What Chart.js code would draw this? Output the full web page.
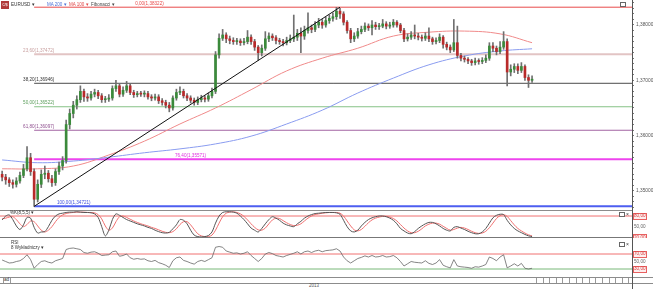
<!DOCTYPE html>
<html><head><meta charset="utf-8">
<script src="https://cdn.jsdelivr.net/npm/chart.js@4.4.0/dist/chart.umd.min.js"></script>
<style>
html,body{margin:0;padding:0;background:#fff;width:653px;height:289px;overflow:hidden;font-family:"Liberation Sans",Arial,sans-serif;}
canvas{position:absolute;left:0;}
.hl{position:absolute;left:0;width:632px;height:1px;background:#8c8c8c;}
.t{position:absolute;white-space:nowrap;font-size:4.5px;line-height:6px;}
.ico{position:absolute;width:4px;height:3px;border:1px solid #666;background:#fff;}
</style></head><body>
<canvas id="main" width="653" height="210" style="top:0"></canvas>
<canvas id="stoch" width="653" height="28" style="top:210px"></canvas>
<canvas id="rsi" width="653" height="39" style="top:238px"></canvas>

<div class="hl" style="top:210px"></div>
<div class="hl" style="top:237px;background:#777"></div>
<div class="hl" style="top:277px;width:653px"></div>
<div class="hl" style="top:283px;width:653px"></div>
<div style="position:absolute;left:632px;top:277px;width:1px;height:12px;background:#555"></div>
<div style="position:absolute;left:0;top:278px;width:3px;height:5px;border-right:1px solid #999"></div>
<div class="t" style="left:4px;top:277px;font-size:4.5px;color:#333">ad</div>
<div style="position:absolute;left:10px;top:278px;width:1px;height:5px;background:#999"></div>
<div style="position:absolute;left:536px;top:278px;width:96px;height:5px;background:repeating-linear-gradient(90deg,#999 0,#999 1px,transparent 1px,transparent 6.6px)"></div>
<div class="t" style="left:309px;top:283px;font-size:4.5px;color:#555">2013</div>

<div style="position:absolute;left:1px;top:1px;width:8px;height:8px;background:#b03a3a;color:#fff;font-size:4px;line-height:8px;text-align:center">€/$</div>
<div class="t" style="left:11px;top:2px;color:#333;font-size:4.6px">EURUSD ▾</div>
<div class="t" style="left:47px;top:2px;color:#4a6fd6">MA 200 ▾</div>
<div class="t" style="left:69px;top:2px;color:#e04848">MA 100 ▾</div>
<div class="t" style="left:91px;top:2px;color:#444">Fibonacci ▾</div>
<div class="ico" style="left:620px;top:2px"></div>
<div class="t" style="left:10px;top:210px;color:#333;font-size:4.5px">%K(8,5,5) ▾</div>
<div class="ico" style="left:619px;top:212px"></div><div class="t" style="left:626px;top:211px;font-size:5px;color:#333">×</div>
<div class="t" style="left:11px;top:240px;color:#333;font-size:4.5px">RSI</div>
<div class="t" style="left:11px;top:245px;color:#333;font-size:4.5px">8 Wykładniczy ▾</div>
<div class="ico" style="left:619px;top:242px"></div><div class="t" style="left:626px;top:241px;font-size:5px;color:#333">×</div>

<script>
// ---------- DATA ----------
const opens = [1.3530,1.3525,1.3520,1.3515,1.3512,1.3518,1.3528,1.3540,1.3560,1.3535,
1.3485,1.3512,1.3530,1.3532,1.3522,1.3515,1.3535,1.3545,1.3555,1.3620,
1.3640,1.3655,1.3665,1.3680,1.3670,1.3668,1.3675,1.3678,1.3672,1.3665,
1.3666,1.3668,1.3685,1.3690,1.3675,1.3682,1.3690,1.3678,1.3674,1.3676,
1.3675,1.3676,1.3670,1.3668,1.3670,1.3663,1.3660,1.3655,1.3650,1.3668,
1.3678,1.3680,1.3672,1.3668,1.3664,1.3660,1.3665,1.3668,1.3666,1.3672,
1.3680,1.3746,1.3776,1.3782,1.3775,1.3772,1.3770,1.3771,1.3768,1.3770,
1.3778,1.3770,1.3760,1.3750,1.3758,1.3775,1.3780,1.3777,1.3772,1.3770,
1.3768,1.3772,1.3775,1.3778,1.3785,1.3780,1.3790,1.3795,1.3792,1.3800,
1.3805,1.3800,1.3808,1.3812,1.3815,1.3825,1.3820,1.3805,1.3790,1.3775,
1.3780,1.3788,1.3792,1.3798,1.3795,1.3800,1.3797,1.3798,1.3802,1.3798,
1.3800,1.3805,1.3800,1.3790,1.3775,1.3778,1.3782,1.3780,1.3778,1.3776,
1.3780,1.3775,1.3770,1.3772,1.3778,1.3765,1.3760,1.3755,1.3768,1.3745,
1.3740,1.3738,1.3735,1.3732,1.3735,1.3734,1.3736,1.3740,1.3762,1.3758,
1.3752,1.3760,1.3770,1.3715,1.3720,1.3725,1.3718,1.3725,1.3705,1.3700];
const highs = [1.3536,1.3530,1.3524,1.3520,1.3524,1.3534,1.3548,1.3580,1.3568,1.3540,
1.3520,1.3538,1.3545,1.3537,1.3528,1.3540,1.3552,1.3562,1.3628,1.3648,
1.3662,1.3672,1.3690,1.3684,1.3676,1.3680,1.3684,1.3682,1.3676,1.3671,
1.3674,1.3690,1.3700,1.3694,1.3688,1.3698,1.3693,1.3682,1.3680,1.3680,
1.3681,1.3680,1.3674,1.3675,1.3674,1.3667,1.3664,1.3660,1.3672,1.3684,
1.3688,1.3684,1.3676,1.3672,1.3668,1.3670,1.3673,1.3672,1.3677,1.3686,
1.3752,1.3784,1.3792,1.3786,1.3780,1.3777,1.3776,1.3775,1.3776,1.3790,
1.3782,1.3774,1.3763,1.3764,1.3788,1.3786,1.3784,1.3781,1.3776,1.3774,
1.3778,1.3782,1.3818,1.3792,1.3795,1.3798,1.3822,1.3800,1.3806,1.3812,
1.3810,1.3814,1.3818,1.3822,1.3832,1.3830,1.3824,1.3808,1.3794,1.3786,
1.3794,1.3798,1.3804,1.3802,1.3808,1.3805,1.3803,1.3810,1.3806,1.3805,
1.3810,1.3808,1.3803,1.3794,1.3784,1.3788,1.3800,1.3785,1.3782,1.3786,
1.3795,1.3778,1.3777,1.3784,1.3781,1.3769,1.3764,1.3810,1.3798,1.3749,
1.3744,1.3741,1.3738,1.3740,1.3739,1.3741,1.3746,1.3768,1.3768,1.3762,
1.3770,1.3788,1.3775,1.3728,1.3730,1.3730,1.3732,1.3728,1.3710,1.3708];
const lows = [1.3518,1.3512,1.3508,1.3505,1.3507,1.3514,1.3524,1.3536,1.3528,1.3472,
1.3480,1.3506,1.3522,1.3516,1.3508,1.3510,1.3530,1.3538,1.3550,1.3612,
1.3632,1.3648,1.3660,1.3662,1.3662,1.3664,1.3670,1.3667,1.3660,1.3660,
1.3662,1.3664,1.3680,1.3670,1.3671,1.3678,1.3674,1.3669,1.3670,1.3671,
1.3670,1.3666,1.3663,1.3664,1.3658,1.3655,1.3650,1.3643,1.3646,1.3664,
1.3674,1.3668,1.3663,1.3659,1.3655,1.3656,1.3661,1.3661,1.3662,1.3668,
1.3676,1.3740,1.3772,1.3768,1.3766,1.3765,1.3765,1.3763,1.3764,1.3766,
1.3765,1.3754,1.3736,1.3744,1.3754,1.3770,1.3772,1.3766,1.3765,1.3762,
1.3764,1.3768,1.3770,1.3772,1.3750,1.3774,1.3785,1.3786,1.3788,1.3795,
1.3794,1.3796,1.3803,1.3807,1.3810,1.3812,1.3800,1.3785,1.3768,1.3770,
1.3776,1.3784,1.3788,1.3790,1.3782,1.3792,1.3792,1.3795,1.3793,1.3794,
1.3796,1.3796,1.3786,1.3770,1.3771,1.3774,1.3775,1.3773,1.3771,1.3772,
1.3770,1.3765,1.3766,1.3768,1.3758,1.3755,1.3750,1.3752,1.3740,1.3735,
1.3733,1.3730,1.3727,1.3728,1.3729,1.3730,1.3732,1.3736,1.3752,1.3746,
1.3748,1.3756,1.3690,1.3708,1.3714,1.3712,1.3714,1.3700,1.3687,1.3696];
const closes = [1.3525,1.3520,1.3515,1.3512,1.3518,1.3528,1.3540,1.3560,1.3535,1.3485,
1.3512,1.3530,1.3532,1.3522,1.3515,1.3535,1.3545,1.3555,1.3620,1.3640,
1.3655,1.3665,1.3680,1.3670,1.3668,1.3675,1.3678,1.3672,1.3665,1.3666,
1.3668,1.3685,1.3690,1.3675,1.3682,1.3690,1.3678,1.3674,1.3676,1.3675,
1.3676,1.3670,1.3668,1.3670,1.3663,1.3660,1.3655,1.3650,1.3668,1.3678,
1.3680,1.3672,1.3668,1.3664,1.3660,1.3665,1.3668,1.3666,1.3672,1.3680,
1.3746,1.3776,1.3782,1.3775,1.3772,1.3770,1.3771,1.3768,1.3770,1.3778,
1.3770,1.3760,1.3750,1.3758,1.3775,1.3780,1.3777,1.3772,1.3770,1.3768,
1.3772,1.3775,1.3778,1.3785,1.3780,1.3790,1.3795,1.3792,1.3800,1.3805,
1.3800,1.3808,1.3812,1.3815,1.3825,1.3820,1.3805,1.3790,1.3775,1.3780,
1.3788,1.3792,1.3798,1.3795,1.3800,1.3797,1.3798,1.3802,1.3798,1.3800,
1.3805,1.3800,1.3790,1.3775,1.3778,1.3782,1.3780,1.3778,1.3776,1.3780,
1.3775,1.3770,1.3772,1.3778,1.3765,1.3760,1.3755,1.3768,1.3745,1.3740,
1.3738,1.3735,1.3732,1.3735,1.3734,1.3736,1.3740,1.3762,1.3758,1.3752,
1.3760,1.3770,1.3715,1.3720,1.3725,1.3718,1.3725,1.3705,1.3700,1.3702];

const maIdx  = [0,10,20,30,40,50,60,70,80,90,100,110,120,130,140,149];
const ma200  = [1.3556,1.3551,1.3554,1.3561,1.3569,1.3576,1.3585,1.3599,1.3621,1.3646,1.3677,1.3704,1.3728,1.3744,1.3753,1.3757];
const ma100  = [1.3540,1.3540,1.3545,1.3565,1.3590,1.3621,1.3650,1.3683,1.3717,1.3740,1.3758,1.3780,1.3787,1.3789,1.3784,1.3768];

const trendIdx = [9,95];
const trendVal = [1.34721,1.38322];

const fibPct = ['0,00','23,60','38,20','50,00','61,80','76,40','100,00'];
const fibVal = [1.38322,1.37472,1.36946,1.36522,1.36097,1.35571,1.34721];
const fibStartIdx = 9;

const stochK = [69,80,83,70,52,42,55,76,74,48,32,35,36,50,68,80,86,88,90,91,
91,92,91,90,90,89,86,76,50,24,40,70,86,82,76,70,66,62,58,55,
52,48,45,40,36,33,32,34,44,55,70,68,58,40,26,22,21,22,25,35,
60,80,90,92,92,91,88,80,70,58,46,40,35,45,58,70,78,74,68,60,
55,52,50,58,65,74,80,84,87,88,89,90,90,90,89,85,68,50,38,35,
40,52,62,70,75,78,80,80,78,74,68,58,45,38,32,30,36,45,52,58,
62,62,58,52,45,40,38,48,50,46,42,37,33,30,30,35,45,60,75,82,
85,84,68,55,45,38,33,28,24,22];
const stochD = [72,74,77,78,70,58,50,56,66,64,52,40,35,40,50,64,76,83,87,89,
90,91,91,91,90,90,89,84,72,52,40,46,64,78,80,76,71,66,62,58,
55,52,48,45,41,37,34,33,36,44,56,64,64,55,42,30,24,22,22,26,
40,60,78,88,91,92,90,86,79,69,58,48,41,40,46,58,69,74,73,67,
61,56,53,54,58,66,74,80,84,86,88,89,90,90,90,88,80,66,52,41,
38,42,51,61,69,74,77,79,79,77,73,66,56,46,38,33,33,37,44,52,
57,60,60,57,51,45,40,42,46,48,46,42,37,33,31,32,37,47,60,73,
81,84,79,67,55,45,38,32,27,24];
const stochLevels = [80,50,20];

const rsi = [54,50,46,47,50,52,58,68,55,32,42,50,52,48,46,52,55,58,82,85,
86,84,82,74,72,75,76,72,66,67,68,76,78,64,66,70,60,56,58,56,
57,52,50,53,47,44,40,34,52,60,62,53,50,46,43,50,53,50,55,60,
88,90,88,78,75,72,73,70,72,76,66,58,50,58,70,74,71,66,64,62,
66,69,72,76,70,76,78,74,78,80,76,79,80,81,84,78,62,52,46,52,
58,61,65,62,66,62,63,66,62,63,66,60,50,38,44,50,48,47,46,52,
45,42,46,55,40,36,33,55,38,36,35,34,32,36,35,38,42,62,58,52,
62,68,33,38,44,38,45,32,30,32];
const rsiLevels = [70,50,30];

// ---------- STYLE ----------
const FONT = '"Liberation Sans", Arial, sans-serif';
const XMIN = -0.6, XMAX = 177.1;
const upCol = '#3b8a3b', dnCol = '#b82a2a', wickCol = '#707070';
const fibColors = ['#e84a4a','#e2c4c4','#4a4a4a','#86c286','#a263a2','#ee44ee','#4d5ef0'];
const fibWidths = [1,2,1,1.2,1.2,2,2];
const fibTextColors = ['#e84a4a','#c9a0a0','#333','#5a9d5a','#8f4f8f','#e030e0','#3d4fe0'];
const fibLabelAt = [37.4,5.9,5.9,5.9,5.9,48.6,15.4];

const idx = closes.map((_, i) => i);
const bodyColors = closes.map((c, i) => c >= opens[i] ? upCol : dnCol);

function hLine(v, color, width) {
  return {type:'line', data:[{x:XMIN,y:v},{x:XMAX,y:v}], borderColor:color, borderWidth:width, pointRadius:0, order:5};
}
function fixAxis(s){ s.width = 21; s.paddingTop = 0; s.paddingBottom = 0; }

const fibLabelPlugin = {
  id:'fibLabels',
  afterDatasetsDraw(chart){
    const {ctx, scales:{x,y}} = chart;
    ctx.save();
    ctx.font = '4.6px ' + FONT;
    ctx.textBaseline = 'bottom';
    fibVal.forEach((v,k)=>{
      ctx.fillStyle = fibTextColors[k];
      ctx.fillText(fibPct[k] + '(' + v.toFixed(5).replace('.',',') + ')', x.getPixelForValue(fibLabelAt[k]), y.getPixelForValue(v) - 1.5);
    });
    ctx.restore();
  }
};
const boxPlugin = {
  id:'boxTicks',
  beforeDraw(chart, args, opts){
    const {ctx, scales:{y}} = chart;
    ctx.save();
    (opts.values||[]).forEach(v=>{
      const py = Math.round(y.getPixelForValue(v));
      ctx.fillStyle = '#fdeeee';
      ctx.strokeStyle = '#e86060';
      ctx.lineWidth = 1;
      ctx.fillRect(633, py-3, 13, 6);
      ctx.strokeRect(633.5, py-2.5, 13, 6);
    });
    ctx.restore();
  }
};

const baseX = {type:'linear', display:false, offset:false, min:XMIN, max:XMAX, grid:{offset:false}};

// ---------- MAIN ----------
const mainDatasets = [];
fibVal.forEach((v,k)=>{
  mainDatasets.push({type:'line', data:[{x:fibStartIdx,y:v},{x:XMAX,y:v}], borderColor:fibColors[k], borderWidth:fibWidths[k], pointRadius:0, order:6});
});
mainDatasets.push({type:'line', data:maIdx.map((x,k)=>({x, y:ma200[k]})), borderColor:'#8a9cf0', borderWidth:1, pointRadius:0, tension:0.4, order:4});
mainDatasets.push({type:'line', data:maIdx.map((x,k)=>({x, y:ma100[k]})), borderColor:'#f08a8a', borderWidth:1, pointRadius:0, tension:0.4, order:4});
mainDatasets.push({type:'bar', data:idx.map(i=>({x:i, y:[lows[i],highs[i]]})), backgroundColor:wickCol, barThickness:1, grouped:false, order:3});
mainDatasets.push({type:'bar', data:idx.map(i=>({x:i, y:[opens[i],closes[i]]})), backgroundColor:bodyColors, barThickness:2, minBarLength:1, grouped:false, order:2});
mainDatasets.push({type:'line', data:trendIdx.map((x,k)=>({x, y:trendVal[k]})), borderColor:'#111', borderWidth:1, pointRadius:0, order:1});

new Chart(document.getElementById('main'), {
  data:{datasets:mainDatasets},
  options:{
    responsive:false, animation:false, events:[],
    layout:{padding:0},
    plugins:{legend:{display:false}, tooltip:{enabled:false}},
    scales:{
      x: baseX,
      y:{
        position:'right', min:1.34655, max:1.38452,
        afterBuildTicks(s){ const t=[]; for(let k=1347;k<=1384;k++) t.push({value:k/1000}); s.ticks=t; },
        afterFit: fixAxis,
        grid:{drawOnChartArea:false, tickLength:2, color:'#777'},
        border:{display:true, color:'#555'},
        ticks:{autoSkip:false, padding:2, color:'#555', font:{size:4.8, family:FONT},
          callback:(v)=> Math.abs(v*100 - Math.round(v*100)) < 1e-6 ? v.toFixed(5).replace('.',',') : ''}
      }
    }
  },
  plugins:[fibLabelPlugin]
});

// ---------- STOCH ----------
new Chart(document.getElementById('stoch'), {
  data:{datasets:[
    hLine(80,'#f07070',1),
    {type:'line', data:idx.map(i=>({x:i,y:stochD[i]})), borderColor:'#f07070', borderWidth:1, pointRadius:0, tension:0.3, order:2},
    {type:'line', data:idx.map(i=>({x:i,y:stochK[i]})), borderColor:'#555', borderWidth:1, pointRadius:0, tension:0.3, order:1}
  ]},
  options:{
    responsive:false, animation:false, events:[],
    layout:{padding:0},
    plugins:{legend:{display:false}, tooltip:{enabled:false}, boxTicks:{values:[80,20]}},
    scales:{
      x: baseX,
      y:{position:'right', min:18, max:97,
        afterBuildTicks(s){ s.ticks = stochLevels.map(v=>({value:v})); },
        afterFit: fixAxis,
        grid:{drawOnChartArea:false, tickLength:1, color:'#777'},
        border:{display:true, color:'#555'},
        ticks:{autoSkip:false, padding:1, font:{size:4.6, family:FONT},
          color:(c)=> c.tick && c.tick.value===50 ? '#666' : '#d84040',
          callback:(v)=> v.toFixed(2).replace('.',',')}
      }
    }
  },
  plugins:[boxPlugin]
});

// ---------- RSI ----------
new Chart(document.getElementById('rsi'), {
  data:{datasets:[
    hLine(70,'#f07070',1),
    hLine(30,'#78b878',1),
    {type:'line', data:idx.map(i=>({x:i,y:rsi[i]})), borderColor:'#666', borderWidth:0.8, pointRadius:0, order:1}
  ]},
  options:{
    responsive:false, animation:false, events:[],
    layout:{padding:0},
    plugins:{legend:{display:false}, tooltip:{enabled:false}, boxTicks:{values:[70,30]}},
    scales:{
      x: baseX,
      y:{position:'right', min:8.7, max:112.7,
        afterBuildTicks(s){ s.ticks = rsiLevels.map(v=>({value:v})); },
        afterFit: fixAxis,
        grid:{drawOnChartArea:false, tickLength:1, color:'#777'},
        border:{display:true, color:'#555'},
        ticks:{autoSkip:false, padding:1, font:{size:4.6, family:FONT},
          color:(c)=> c.tick && c.tick.value===50 ? '#666' : '#d84040',
          callback:(v)=> v.toFixed(2).replace('.',',')}
      }
    }
  },
  plugins:[boxPlugin]
});
</script>
</body></html>
